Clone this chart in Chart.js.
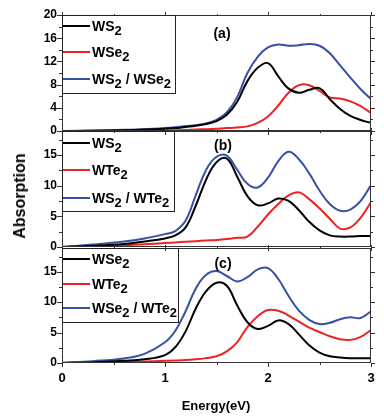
<!DOCTYPE html>
<html>
<head>
<meta charset="utf-8">
<script src="https://cdn.jsdelivr.net/npm/chart.js@4.4.1/dist/chart.umd.min.js"></script>
<style>
  html, body { margin: 0; padding: 0; background: #fff; }
  #wrap {
    position: relative; width: 384px; height: 418px; overflow: hidden;
    font-family: "Liberation Sans", Arial, sans-serif; font-weight: bold; color: #000;
  }
  canvas { position: absolute; left: 0; top: 0; }
  .legend { position: absolute; border: 1px solid #222; box-sizing: border-box; }
  .legend .swatch { position: absolute; left: 0; width: 27px; height: 2px; }
  .legend .name { position: absolute; left: 29px; font-size: 14px; line-height: 20px; white-space: nowrap; }
  .legend sub { font-size: 13px; vertical-align: baseline; position: relative; top: 4px; }
  .tag { position: absolute; font-size: 14px; transform: translate(-50%, -50%); }
  #ytitle { position: absolute; left: 20px; top: 196px; font-size: 16px; transform: translate(-50%, -50%) rotate(-90deg); white-space: nowrap; }
  #xtitle { position: absolute; left: 216px; top: 405px; font-size: 13px; transform: translate(-50%, -50%); white-space: nowrap; }
</style>
</head>
<body>
<div id="wrap">
  <canvas id="panelA" width="384" height="418"></canvas>
  <canvas id="panelB" width="384" height="418"></canvas>
  <canvas id="panelC" width="384" height="418"></canvas>
  <div id="ytitle">Absorption</div>
  <div id="xtitle">Energy(eV)</div>
</div>
<script>
// ─── Data ──────────────────────────────────

const energy = [0, 0.3, 0.6, 0.8, 1.0, 1.1, 1.2, 1.3, 1.4, 1.5, 1.6, 1.7, 1.8, 1.9, 2.0,
                2.1, 2.2, 2.3, 2.4, 2.5, 2.6, 2.7, 2.8, 2.9, 3.0];

// (a)
const ws2A     = [0, 0.05, 0.15, 0.25, 0.4, 0.5, 0.7, 0.9, 1.2, 1.7, 2.8, 5.0, 8.6, 10.9, 11.7, 9.4, 7.3, 6.6, 7.1, 7.4, 5.5, 3.8, 2.6, 1.9, 1.4];
const wse2A    = [0, 0, 0.02, 0.05, 0.08, 0.12, 0.18, 0.25, 0.32, 0.4, 0.5, 0.6, 0.8, 1.4, 2.5, 4.4, 6.6, 7.9, 7.9, 6.9, 5.8, 5.6, 5.1, 4.3, 3.1];
const ws2wse2A = [0, 0.08, 0.2, 0.3, 0.5, 0.65, 0.85, 1.0, 1.3, 1.9, 3.2, 5.8, 10.0, 12.8, 14.4, 14.9, 14.7, 14.8, 15.0, 14.7, 13.4, 11.3, 9.2, 7.2, 5.5];

// (b)
const ws2B     = [0, 0.2, 0.5, 0.9, 1.4, 1.9, 3.2, 6.8, 11.0, 13.8, 14.4, 11.5, 8.3, 6.8, 7.1, 7.9, 7.5, 6.0, 4.1, 2.7, 1.9, 1.7, 1.7, 1.8, 1.8];
const wte2B    = [0, 0.1, 0.3, 0.45, 0.65, 0.75, 0.85, 0.95, 1.05, 1.15, 1.3, 1.5, 1.7, 3.3, 5.3, 7.0, 8.4, 8.9, 7.8, 6.3, 4.6, 3.0, 3.2, 4.8, 7.3];
const ws2wte2B = [0, 0.4, 0.9, 1.4, 2.1, 2.6, 4.3, 8.5, 12.6, 14.7, 14.9, 12.6, 10.3, 9.7, 11.3, 14.0, 15.5, 14.3, 12.0, 9.2, 7.0, 5.9, 6.1, 7.5, 10.1];

// (c)
const wse2C     = [0, 0.1, 0.35, 0.6, 1.3, 2.6, 5.2, 9.0, 11.8, 13.2, 12.7, 9.5, 6.7, 5.6, 6.1, 7.0, 6.4, 4.7, 2.9, 1.7, 1.1, 0.9, 0.8, 0.8, 0.8];
const wte2C     = [0, 0.05, 0.15, 0.25, 0.35, 0.4, 0.5, 0.6, 0.8, 1.1, 1.9, 3.4, 5.9, 7.7, 8.7, 8.6, 7.8, 6.8, 5.8, 5.1, 4.4, 3.9, 3.8, 4.3, 5.4];
const wse2wte2C = [0, 0.3, 0.75, 1.5, 3.4, 5.3, 8.5, 12.3, 14.5, 15.1, 14.3, 13.4, 14.1, 15.4, 15.6, 13.8, 11.0, 8.6, 7.1, 6.4, 6.6, 7.2, 7.5, 7.4, 8.5];

const namesA = ['WS2', 'WSe2', 'WS2 / WSe2'];
const namesB = ['WS2', 'WTe2', 'WS2 / WTe2'];
const namesC = ['WSe2', 'WTe2', 'WSe2 / WTe2'];

const yTicksA  = [0, 4, 8, 12, 16, 20];
const yMinorA  = [2, 6, 10, 14, 18];
const yTicksBC = [0, 5, 10, 15];
const yMinorBC = [2.5, 7.5, 12.5, 17.5];
const xTicks   = [0, 1, 2, 3];
const xMinor   = [0.5, 1.5, 2.5];

const colors = ['#000000', '#ee2222', '#3550a6'];
const FONT   = '"Liberation Sans", Arial, sans-serif';

// ─── Frame and tick marks ──────────────────

const frameTicks = {
    id: 'frameTicks',
    afterDatasetsDraw(chart, args, o) {
        const { ctx, chartArea: a, scales: { x, y } } = chart;
        const line = (x1, y1, x2, y2) => { ctx.beginPath(); ctx.moveTo(x1, y1); ctx.lineTo(x2, y2); ctx.stroke(); };
        ctx.save();
        ctx.strokeStyle = '#333';
        ctx.lineWidth = 1;
        ctx.strokeRect(a.left + 0.5, a.top + 0.5, a.width - 1, a.height - 1);

        const yMark = (v, len) => {
            const py = Math.round(y.getPixelForValue(v)) + 0.5;
            line(a.left - len, py, a.left, py);
            line(a.right, py, a.right + len - 1, py);
        };
        const xMark = (v, len) => {
            const px = Math.round(x.getPixelForValue(v)) + 0.5;
            line(px, a.top - len + 1, px, a.top);
            line(px, a.bottom, px, a.bottom + len);
        };
        o.yTicks.forEach(v => yMark(v, 5));
        o.yMinor.forEach(v => yMark(v, 3));
        xTicks.forEach(v => xMark(v, 4));
        xMinor.forEach(v => xMark(v, 2));
        ctx.restore();
    }
};

// ─── Charts ────────────────────────────────

// top/bottom: pixel edges of the plot box inside the 418px page
function makePanel(id, series, names, yMax, yTicks, yMinor, top, bottom, bottomAxis) {
    const datasets = series.map((vals, i) => ({
        label: names[i],
        data: energy.map((e, k) => ({ x: e, y: vals[k] })),
        borderColor: colors[i],
        borderWidth: 2,
        pointRadius: 0,
        tension: 0.4,
        fill: false
    }));

    return new Chart(document.getElementById(id), {
        type: 'line',
        data: { datasets },
        plugins: [frameTicks],
        options: {
            responsive: false,
            animation: false,
            layout: { padding: { top, right: 13, bottom: bottomAxis ? 0 : 418 - bottom, left: 0 } },
            plugins: {
                legend: { display: false },
                tooltip: { enabled: false },
                frameTicks: { yTicks, yMinor }
            },
            scales: {
                x: {
                    type: 'linear',
                    min: 0, max: 3,
                    display: bottomAxis,
                    afterBuildTicks: s => { s.ticks = xTicks.map(v => ({ value: v })); },
                    afterFit: s => { s.height = bottomAxis ? 418 - bottom : 0; },
                    grid: { display: false, drawTicks: false },
                    border: { display: false },
                    ticks: { padding: 8, color: '#000', font: { family: FONT, size: 13, weight: 'bold' } }
                },
                y: {
                    min: 0, max: yMax,
                    afterBuildTicks: s => { s.ticks = yTicks.map(v => ({ value: v })); },
                    afterFit: s => { s.width = 62; },
                    grid: { display: false, drawTicks: false },
                    border: { display: false },
                    ticks: { padding: 5, color: '#000', font: { family: FONT, size: 12, weight: 'bold' } }
                }
            }
        }
    });
}

makePanel('panelA', [ws2A, wse2A, ws2wse2A],   namesA, 20,   yTicksA,  yMinorA,  15,  131, false);
makePanel('panelB', [ws2B, wte2B, ws2wte2B],   namesB, 18.9, yTicksBC, yMinorBC, 131, 247, false);
makePanel('panelC', [wse2C, wte2C, wse2wte2C], namesC, 18.9, yTicksBC, yMinorBC, 248, 363, true);

// ─── Legends and labels ────────────────────

const wrap = document.getElementById('wrap');

function addLegend(names, box, rows) {
    const div = document.createElement('div');
    div.className = 'legend';
    Object.assign(div.style, { left: box[0] + 'px', top: box[1] + 'px', width: box[2] + 'px', height: box[3] + 'px' });
    names.forEach((name, i) => {
        const sw = document.createElement('div');
        sw.className = 'swatch';
        sw.style.top = (rows[i] - box[1] - 2) + 'px';
        sw.style.background = colors[i];
        const tx = document.createElement('div');
        tx.className = 'name';
        tx.style.top = (rows[i] - box[1] - 11) + 'px';
        tx.innerHTML = name.replace(/2/g, '<sub>2</sub>');
        div.appendChild(sw);
        div.appendChild(tx);
    });
    wrap.appendChild(div);
}

addLegend(namesA, [62, 15, 114, 79],  [26, 52, 79]);
addLegend(namesB, [62, 131, 113, 81], [143, 170, 198]);
addLegend(namesC, [62, 248, 117, 75], [259, 284, 308]);

[['(a)', 222, 33], ['(b)', 223, 145], ['(c)', 223, 263]].forEach(([t, x, y]) => {
    const d = document.createElement('div');
    d.className = 'tag';
    d.style.left = x + 'px';
    d.style.top = y + 'px';
    d.textContent = t;
    wrap.appendChild(d);
});
</script>
</body>
</html>
